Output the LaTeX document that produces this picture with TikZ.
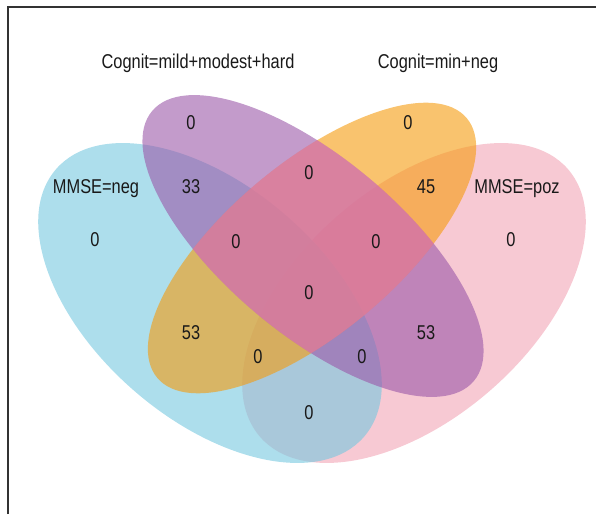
\documentclass[tikz,border=0pt]{standalone}
\usepackage{fontspec}
\setmainfont{Liberation Sans}[FakeStretch=0.82]
\usetikzlibrary{positioning}
\definecolor{mmseneg}{RGB}{118,200,223}
\definecolor{cogbad}{RGB}{155,88,168}
\definecolor{cogok}{RGB}{245,155,13}
\definecolor{mmsepoz}{RGB}{242,165,182}
\definecolor{cogboth}{RGB}{243,129,175}

\begin{document}
\begin{tikzpicture}[
    x=1pt, y=1pt,
    font=\fontsize{20}{24}\selectfont,
    set/.style={fill opacity=0.6},
    lbl/.style={text=black!90, inner sep=0pt},
    num/.style={lbl},
  ]
    \useasboundingbox (0,0) rectangle (596,514);
    \draw[line width=1.2pt, black!80] (8,0) -- (8,507) -- (596,507);

    % the four sets
    \fill[set, mmsepoz] (414,211) ellipse [x radius=204, y radius=116, rotate=41];
    \fill[set, mmseneg] (210,211) ellipse [x radius=204, y radius=116, rotate=-41];
    \fill[set, cogok]   (312,266) ellipse [x radius=202, y radius=85, rotate=40];
    \fill[set, cogbad]  (313,268) ellipse [x radius=210, y radius=88, rotate=-40];
    % tint where both cognit sets meet
    \begin{scope}
      \clip (313,268) ellipse [x radius=210, y radius=88, rotate=-40];
      \fill[cogboth, fill opacity=0.5] (312,266) ellipse [x radius=202, y radius=85, rotate=40];
    \end{scope}

    \node[lbl] (tbad) at (198,451) {Cognit=mild+modest+hard};
    \node[lbl] (tok)  at (438,451) {Cognit=min+neg};
    \node[lbl] (tneg) at (96,325)  {MMSE=neg};
    \node[lbl] (tpoz) at (517,325) {MMSE=poz};

    \foreach \nm/\x/\y/\v in {n1/191/391/0, n2/191/327/33, n3/95/274/0, n4/236/272/0,
      n5/191/181/53, n6/258/157/0, n7/309/341/0, n8/309/221/0, n9/408/391/0,
      n10/426/327/45, n11/376/272/0, n12/511/274/0, n13/426/181/53,
      n14/362/157/0, n15/309/101/0}{
      \node[num] (\nm) at (\x,\y) {\v};
    }
  \end{tikzpicture}
\end{document}
